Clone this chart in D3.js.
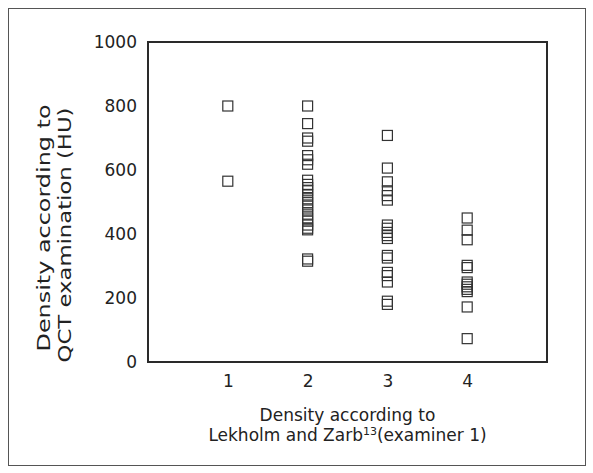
<!DOCTYPE html>
<html lang="en">
<head>
    <meta charset="UTF-8">
    <title>Density scatter</title>
    <style>
        body { margin: 0; background: #fff; }
        text { font-family: "DejaVu Sans", sans-serif; fill: #222; }
    </style>
</head>
<body>

<div id="my_dataviz"></div>

<script src="https://d3js.org/d3.v7.min.js"></script>
<script>
    // Lekholm and Zarb classes (examiner 1) and the QCT density in HU for each
    const categories = [1, 2, 3, 4];
    const class1 = [800, 565];
    const class2 = [800, 745, 700, 690, 645, 632, 618, 568, 555, 545, 535, 522, 510, 498,
                    487, 475, 462, 450, 440, 428, 418, 413, 322, 315];
    const class3 = [708, 606, 563, 535, 520, 506, 428, 418, 405, 395, 386, 333, 325,
                    280, 270, 250, 190, 180];
    const class4 = [450, 412, 382, 302, 295, 250, 243, 235, 227, 220, 172, 73];
    const yTicks = [0, 200, 400, 600, 800, 1000];

    const groups = [class1, class2, class3, class4];
    const data = [];
    groups.forEach(function(vals, i) {
        vals.forEach(function(v) { data.push({cls: categories[i], hu: v}); });
    });

    const W = 593, H = 473;
    const margin = {top: 42, right: 46, bottom: 111, left: 148},
      width = W - margin.left - margin.right,
      height = H - margin.top - margin.bottom;

    const root = d3.select("#my_dataviz")
      .append("svg")
        .attr("width", W)
        .attr("height", H);

    // outer frame of the figure
    root.append("rect")
        .attr("x", 8.5).attr("y", 8.5)
        .attr("width", 577).attr("height", 457)
        .attr("fill", "none")
        .attr("stroke", "#555")
        .attr("stroke-width", 1);

    const svg = root.append("g")
        .attr("transform", `translate(${margin.left},${margin.top})`);

    const x = d3.scaleLinear().domain([0, 5]).range([0, width]);
    const y = d3.scaleLinear().domain([0, 1000]).range([height, 0]);

    // y axis labels only, no ticks
    const yAxis = svg.append("g")
        .call(d3.axisLeft(y).tickValues(yTicks).tickFormat(d3.format("d")).tickSize(0).tickPadding(11));
    yAxis.select(".domain").remove();
    yAxis.selectAll("text").style("font-size", "17px").style("font-family", "DejaVu Sans");

    const xAxis = svg.append("g")
        .attr("transform", `translate(0, ${height})`)
        .call(d3.axisBottom(x).tickValues(categories).tickFormat(d3.format("d")).tickSize(0).tickPadding(13));
    xAxis.select(".domain").remove();
    xAxis.selectAll("text").style("font-size", "17px").style("font-family", "DejaVu Sans");

    // plot box
    svg.append("rect")
        .attr("width", width)
        .attr("height", height)
        .attr("fill", "none")
        .attr("stroke", "#2a2a2a")
        .attr("stroke-width", 2);

    // square markers
    const s = 10;
    svg.selectAll("rect.pt")
        .data(data)
        .join("rect")
        .attr("class", "pt")
        .attr("x", function(d) { return x(d.cls) - s / 2; })
        .attr("y", function(d) { return y(d.hu) - s / 2; })
        .attr("width", s)
        .attr("height", s)
        .attr("fill", "none")
        .attr("stroke", "#333")
        .attr("stroke-width", 1.2);

    // x title
    const cx = margin.left + width / 2;
    root.append("text")
        .attr("x", cx).attr("y", 421)
        .attr("text-anchor", "middle")
        .style("font-size", "17px")
        .text("Density according to");
    const t2 = root.append("text")
        .attr("x", cx).attr("y", 441)
        .attr("text-anchor", "middle")
        .style("font-size", "17px");
    t2.append("tspan").text("Lekholm and Zarb");
    t2.append("tspan").attr("dy", -6).style("font-size", "11px").text("13");
    t2.append("tspan").attr("dy", 6).text("(examiner 1)");

    // y title, two rotated lines
    root.append("text")
        .attr("transform", "translate(50,228) rotate(-90)")
        .attr("text-anchor", "middle")
        .attr("textLength", 247)
        .attr("lengthAdjust", "spacingAndGlyphs")
        .style("font-size", "17px")
        .text("Density according to");
    root.append("text")
        .attr("transform", "translate(71,235) rotate(-90)")
        .attr("text-anchor", "middle")
        .attr("textLength", 255)
        .attr("lengthAdjust", "spacingAndGlyphs")
        .style("font-size", "17px")
        .text("QCT examination (HU)");
</script>

</body>
</html>
